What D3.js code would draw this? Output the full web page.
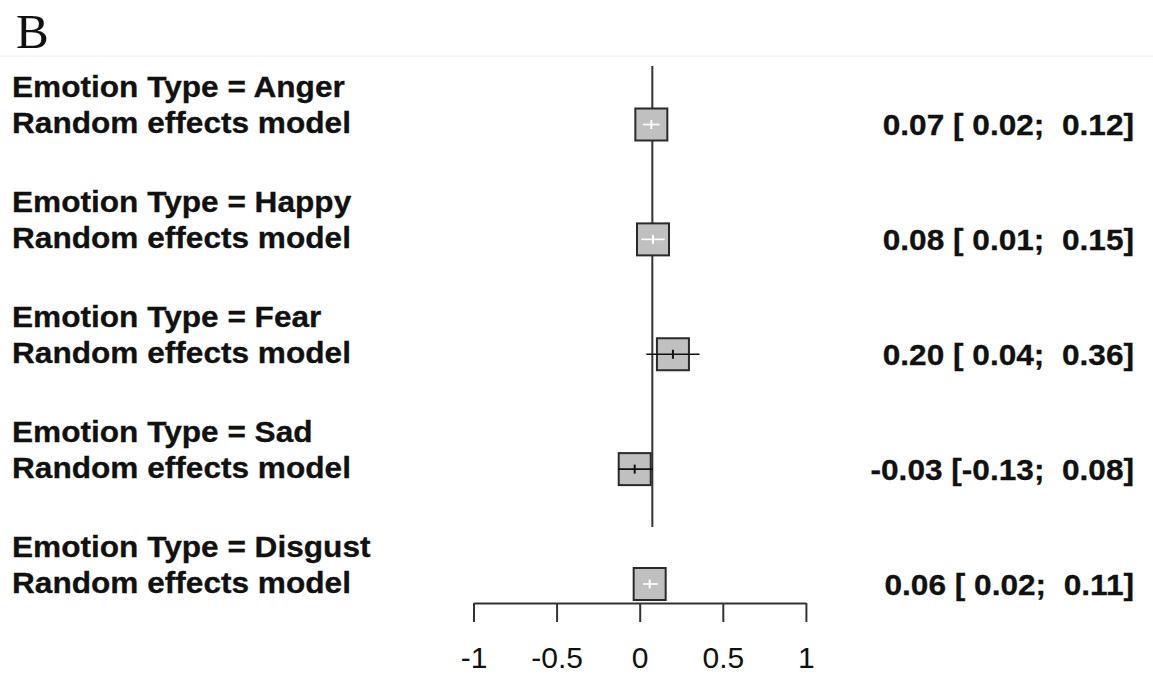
<!DOCTYPE html>
<html>
<head>
<meta charset="utf-8">
<script src="https://cdn.jsdelivr.net/npm/d3@7"></script>
<style>
  html, body { margin: 0; padding: 0; background: #fff; }
  svg { display: block; }
  text { white-space: pre; }
</style>
</head>
<body>
<svg id="chart" width="1153" height="675"></svg>
<script>
// Subgroup pooled estimates (random effects model) by emotion type
const emotions  = ["Anger", "Happy", "Fear", "Sad", "Disgust"];
const estimates = [0.07, 0.08, 0.20, -0.03, 0.06];
const lowerCI   = [0.02, 0.01, 0.04, -0.13, 0.02];
const upperCI   = [0.12, 0.15, 0.36, 0.08, 0.11];
const xTicks    = [-1, -0.5, 0, 0.5, 1];
const xTickLabels = ["-1", "-0.5", "0", "0.5", "1"];
const overallEffect = 0.076;

const svg = d3.select("#chart");
const W = 1153, H = 675;

const x = d3.scaleLinear().domain([-1, 1]).range([473.5, 805.9]);
const y = d3.scalePoint().domain(emotions).range([124.5, 584]);

const fmt = v => (v < 0 ? "" : " ") + v.toFixed(2);
const fmtEst = v => v.toFixed(2);

// Panel letter and faint separator
svg.append("text")
  .attr("x", 16).attr("y", 48)
  .attr("font-family", "'Liberation Serif', 'Times New Roman', serif")
  .attr("font-size", 49)
  .attr("fill", "#111")
  .text("B");

svg.append("line")
  .attr("x1", 0).attr("x2", W).attr("y1", 56).attr("y2", 56)
  .attr("stroke", "#f0f0f0").attr("stroke-width", 1);

const labelFont = "'Liberation Sans', Arial, Helvetica, sans-serif";
const sx = 1.09;

function stretchedText(g, tx, ty, str, anchor) {
  return g.append("text")
    .attr("transform", `translate(${tx},${ty}) scale(${sx},1)`)
    .attr("text-anchor", anchor)
    .attr("font-family", labelFont)
    .attr("font-weight", "bold")
    .attr("font-size", 29)
    .attr("fill", "#111")
    .attr("stroke", "#111")
    .attr("stroke-width", 0.3)
    .text(str);
}

// Row labels and estimates
const rows = svg.append("g");
emotions.forEach((e, i) => {
  const cy = y(e);
  stretchedText(rows, 12, cy - 27.5, "Emotion Type = " + e, "start");
  stretchedText(rows, 12, cy + 8.5, "Random effects model", "start");
  stretchedText(rows, 1134, cy + 10.5,
    `${fmtEst(estimates[i])} [${fmt(lowerCI[i])};  ${fmt(upperCI[i]).trim()}]`, "end");
});

// Reference line at the overall effect
svg.append("line")
  .attr("x1", x(overallEffect)).attr("x2", x(overallEffect))
  .attr("y1", 66).attr("y2", 527)
  .attr("stroke", "#333").attr("stroke-width", 2);

// Squares with confidence intervals
const boxSize = 32;
const marks = svg.append("g");
emotions.forEach((e, i) => {
  const cy = y(e);
  const cx = x(estimates[i]);
  const xl = x(lowerCI[i]), xu = x(upperCI[i]);
  const inside = xl >= cx - boxSize / 2 && xu <= cx + boxSize / 2;
  const lineCol = inside ? "#ffffff" : "#111";

  marks.append("rect")
    .attr("x", cx - boxSize / 2).attr("y", cy - boxSize / 2)
    .attr("width", boxSize).attr("height", boxSize)
    .attr("fill", "#c0c0c0")
    .attr("stroke", "#2a2a2a").attr("stroke-width", 2);
  marks.append("line")
    .attr("x1", xl).attr("x2", xu).attr("y1", cy).attr("y2", cy)
    .attr("stroke", lineCol).attr("stroke-width", 1.6);
  marks.append("line")
    .attr("x1", cx).attr("x2", cx).attr("y1", cy - 4.5).attr("y2", cy + 4.5)
    .attr("stroke", lineCol).attr("stroke-width", 2);
});

// x axis
const axis = d3.axisBottom(x)
  .tickValues(xTicks)
  .tickFormat((d, i) => xTickLabels[i])
  .tickSize(19)
  .tickSizeOuter(0)
  .tickPadding(24.7);

const ax = svg.append("g")
  .attr("transform", "translate(0,603)")
  .call(axis);
ax.select(".domain").attr("stroke", "#333").attr("stroke-width", 2);
ax.selectAll(".tick line").attr("stroke", "#333").attr("stroke-width", 2);
ax.selectAll(".tick text")
  .attr("font-family", labelFont)
  .attr("font-size", 30)
  .attr("fill", "#111");
</script>
</body>
</html>
